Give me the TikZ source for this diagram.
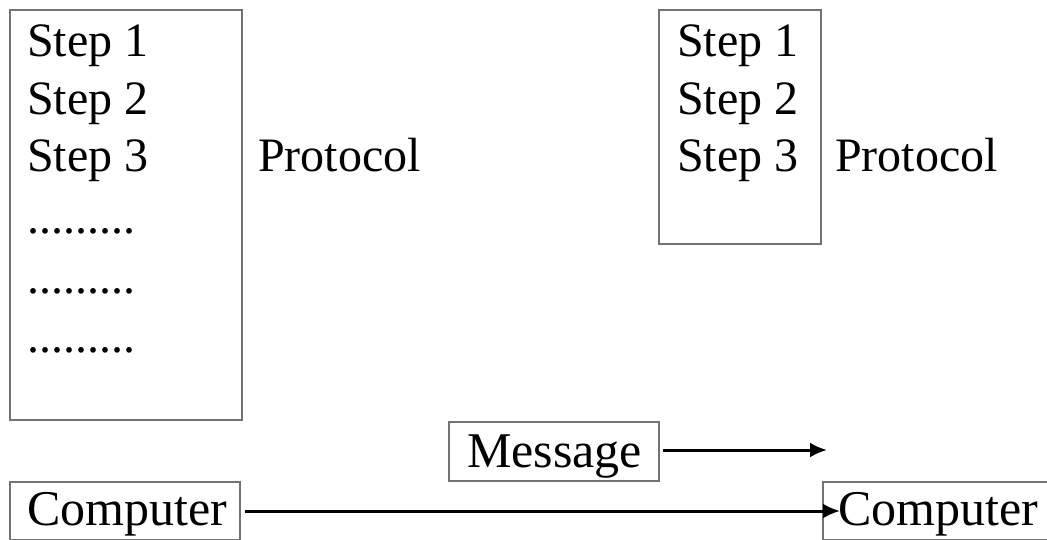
\documentclass[tikz,border=0pt]{standalone}
\usepackage{fontspec}
\setmainfont{Liberation Serif}
\usetikzlibrary{arrows.meta,positioning}

\tikzset{
  frame/.style={draw=black!55, line width=1.8pt, inner sep=0pt},
  txt/.style={anchor=base west, inner sep=0pt, font=\fontsize{48}{58}\selectfont},
  link/.style={-{Latex[length=17pt,width=15pt]}, line width=3pt}
}

\begin{document}
\begin{tikzpicture}[x=1pt,y=-1pt]
    \useasboundingbox (0,0) rectangle (1047,540);

    % Left protocol box
    \node[frame, minimum width=232pt, minimum height=410pt] (leftbox) at (126,215) {};
    \node[txt] (ls1) at (27,57) {Step 1};
    \node[txt] (ls2) at (27,115) {Step 2};
    \node[txt] (ls3) at (27,172) {Step 3};
    \node[txt] (ld1) at (27,234) {.........};
    \node[txt] (ld2) at (27,293) {.........};
    \node[txt] (ld3) at (27,352) {.........};
    \node[txt] (lprot) at (258,172) {Protocol};

    % Right protocol box
    \node[frame, minimum width=162pt, minimum height=234pt] (rightbox) at (740,127) {};
    \node[txt] (rs1) at (677,57) {Step 1};
    \node[txt] (rs2) at (677,115) {Step 2};
    \node[txt] (rs3) at (677,172) {Step 3};
    \node[txt] (rprot) at (835,172) {Protocol};

    % Message
    \node[frame, minimum width=210pt, minimum height=59pt] (msg) at (554,451.5) {};
    \node[txt, font=\fontsize{50}{60}\selectfont] (msgtxt) at (467,467) {Message};
    \coordinate (msgend) at (827,450);
    \draw[link] (msg.east |- msgend) ++(3,0) -- (msgend);

    % Computers
    \node[frame, minimum width=230pt, minimum height=58pt] (compA) at (125,511) {};
    \node[txt, font=\fontsize{50}{60}\selectfont] (compAtxt) at (27,525) {Computer};
    \node[frame, minimum width=240pt, minimum height=58pt, anchor=west] (compB) at (822,511) {};
    \node[txt, font=\fontsize{50}{60}\selectfont] (compBtxt) at (838,525) {Computer};
    \coordinate (compend) at (840,511);
    \draw[link] (compA.east) ++(4,0) -- (compend);
\end{tikzpicture}
\end{document}
